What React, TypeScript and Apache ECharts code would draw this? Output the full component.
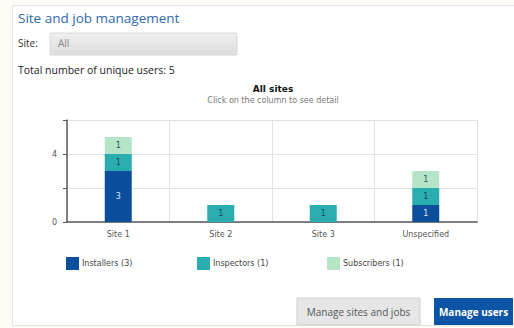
import React, { useEffect, useRef } from "react";
import * as echarts from "echarts";

const categories = ["Site 1", "Site 2", "Site 3", "Unspecified"];
const installers = [3, null, null, 1];
const inspectors = [1, 1, 1, 1];
const subscribers = [1, null, null, 1];
const seriesNames = ["Installers", "Inspectors", "Subscribers"];
const uniqueCounts = [3, 1, 1];
const yTickLabels = ["0", "4"];
const totalUsers = 5;

const colors = ["#0b4f9c", "#2bacae", "#b5e4c8"];
const labelColors = ["#dfe8f5", "#1d4a5a", "#2a5a48"];

export default function App() {
  const ref = useRef<HTMLDivElement>(null);
  useEffect(() => {
    document.body.style.margin = "0";
    const chart = echarts.init(ref.current!, null, { renderer: "svg" });
    const dataSets = [installers, inspectors, subscribers];
    const legendLefts = [66, 197, 327];
    const uiFont = "Open Sans";
    const chartFont = "DejaVu Sans";
    chart.setOption({
      animation: false,
      backgroundColor: "#fdfbf3",
      title: {
        text: "All sites",
        subtext: "Click on the column to see detail",
        left: 268,
        top: 79,
        textAlign: "center",
        itemGap: 3,
        textStyle: { fontFamily: chartFont, fontSize: 9, fontWeight: "bold", color: "#111" },
        subtextStyle: { fontFamily: chartFont, fontSize: 8, color: "#777" },
      },
      grid: { left: 67, right: 37, top: 120, bottom: 106 },
      xAxis: {
        type: "category",
        data: categories,
        axisLine: { lineStyle: { color: "#5a5a5a", width: 1.5 } },
        axisTick: { alignWithLabel: true, length: 4, lineStyle: { color: "#5a5a5a" } },
        axisLabel: { fontFamily: chartFont, fontSize: 8, color: "#555", margin: 8 },
        splitLine: { show: true, lineStyle: { color: "#e2e2e2" } },
      },
      yAxis: {
        type: "value",
        min: 0,
        max: 6,
        interval: 2,
        axisLine: { show: true, lineStyle: { color: "#5a5a5a", width: 1.5 } },
        axisTick: { show: true, length: 4, lineStyle: { color: "#5a5a5a" } },
        axisLabel: {
          fontFamily: chartFont,
          fontSize: 8,
          color: "#555",
          margin: 10,
          formatter: (v: number) => (yTickLabels.includes(String(v)) ? String(v) : ""),
        },
        splitLine: { show: true, lineStyle: { color: "#e2e2e2" } },
      },
      legend: seriesNames.map((n, i) => ({
        data: [n],
        left: legendLefts[i],
        top: 257,
        padding: 0,
        itemWidth: 13,
        itemHeight: 13,
        itemGap: 0,
        icon: "rect",
        selectedMode: false,
        formatter: (name: string) => `${name} (${uniqueCounts[seriesNames.indexOf(name)]})`,
        textStyle: { fontFamily: chartFont, fontSize: 8, color: "#444", padding: [0, 0, 0, -2] },
      })),
      series: seriesNames.map((n, i) => ({
        name: n,
        type: "bar",
        stack: "users",
        barWidth: 27,
        data: dataSets[i],
        itemStyle: { color: colors[i] },
        label: {
          show: true,
          position: "inside",
          fontFamily: chartFont,
          fontSize: 8,
          color: labelColors[i],
        },
      })),
      graphic: [
        {
          type: "rect",
          shape: { x: 12.5, y: 5.5, width: 510, height: 320 },
          style: { fill: "#ffffff", stroke: "#e4e4e4", lineWidth: 1 },
          z: -10,
          silent: true,
        },
        {
          type: "text",
          left: 18,
          top: 11,
          style: { text: "Site and job management", fontFamily: uiFont, fontSize: 13.5, fill: "#2f68ad" },
        },
        {
          type: "text",
          left: 18,
          top: 38,
          style: { text: "Site:", fontFamily: uiFont, fontSize: 10, fill: "#333" },
        },
        {
          type: "rect",
          shape: { x: 50, y: 33, width: 187, height: 22, r: 1 },
          style: {
            fill: new echarts.graphic.LinearGradient(0, 0, 0, 1, [
              { offset: 0, color: "#f0f0f0" },
              { offset: 1, color: "#dcdcdc" },
            ]),
            stroke: "#d8d8d8",
          },
        },
        {
          type: "text",
          left: 58,
          top: 38,
          style: { text: "All", fontFamily: uiFont, fontSize: 10, fill: "#8a8a8a" },
        },
        {
          type: "text",
          left: 18,
          top: 64,
          style: { text: `Total number of unique users: ${totalUsers}`, fontFamily: uiFont, fontSize: 10.5, fill: "#222" },
        },
        {
          type: "rect",
          shape: { x: 297, y: 298, width: 123, height: 27 },
          style: { fill: "#e6e6e6", stroke: "#cfcfcf" },
        },
        {
          type: "text",
          x: 358.5,
          y: 311.5,
          style: {
            text: "Manage sites and jobs",
            fontFamily: uiFont,
            fontSize: 10,
            fill: "#555",
            align: "center",
            verticalAlign: "middle",
          },
        },
        {
          type: "rect",
          shape: { x: 434, y: 298, width: 79, height: 27 },
          style: { fill: "#0c54a6" },
        },
        {
          type: "text",
          x: 473.5,
          y: 311.5,
          style: {
            text: "Manage users",
            fontFamily: uiFont,
            fontSize: 10,
            fontWeight: "bold",
            fill: "#ffffff",
            align: "center",
            verticalAlign: "middle",
          },
        },
      ],
    });
    return () => chart.dispose();
  }, []);
  return (
    <div
      ref={ref}
      style={{ position: "fixed", left: 0, top: 0, width: 514, height: 328 }}
    />
  );
}
